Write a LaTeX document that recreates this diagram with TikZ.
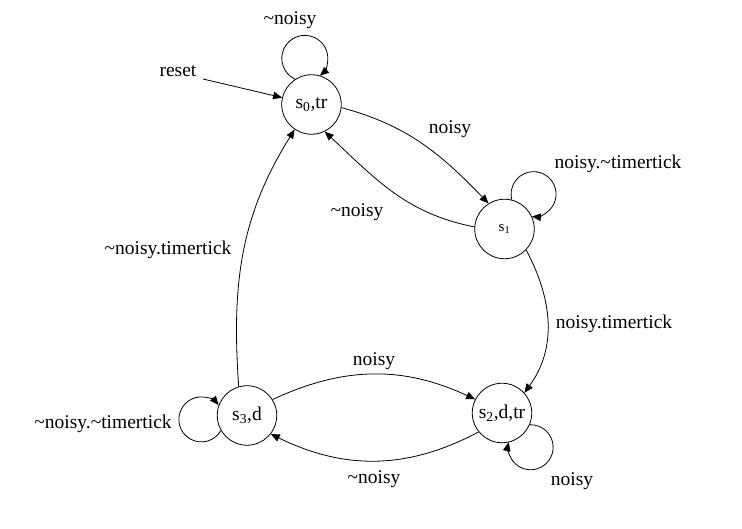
\documentclass[tikz,border=0pt]{standalone}
\usepackage{fontspec}
\setmainfont{Liberation Serif}
\usetikzlibrary{arrows.meta}
\begin{document}
\begin{tikzpicture}[x=1pt,y=1pt,
  state/.style={draw,circle,minimum size=59.5pt,inner sep=0pt,line width=0.8pt,font=\fontsize{19.5}{22}\selectfont},
  lbl/.style={inner sep=0pt,font=\fontsize{19.5}{22}\selectfont},
  tr/.style={line width=0.8pt,-{Triangle[length=9pt,width=7.5pt]}}]
\useasboundingbox (0,0) rectangle (742,529);
\node[state] (s0) at (311.5,424.5) {s\textsubscript{0},tr};
\node[state,font=\fontsize{15}{18}\selectfont] (s1) at (504.5,300) {s\textsubscript{1}};
\node[state] (s2) at (502,116) {s\textsubscript{2},d,tr};
\node[state] (s3) at (247,113.5) {s\textsubscript{3},d};
\coordinate (r) at (203,450);
% edges
\draw[tr] (r) -- (s0);
\draw[tr] (s0.-6) to[out=-15,in=134] (s1.122);
\draw[tr] (s1.176) to[out=169,in=-43] (s0.-64);
\draw[tr] (s1.-44) to[out=-62,in=54] (s2.42);
\draw[tr] (s3.32) to[out=25,in=155] (s2.153);
\draw[tr] (s2.-141) to[out=-152,in=-26] (s3.-38);
\draw[tr] (s3.106) to[out=94,in=-122] (s0.-124);
% loops
\draw[tr] (s0.123) arc[start angle=245,end angle=-49,radius=23];
\draw[tr] (s1.76) arc[start angle=194.4,end angle=-94.4,radius=22.5];
\draw[tr] (s3.210) arc[start angle=-29.7,end angle=-320.3,radius=22.5];
\draw[tr] (s2.-23.7) arc[start angle=92.3,end angle=-193.1,radius=22.5];
% labels
\node[lbl] (l1) at (290,509) {\textasciitilde noisy};
\node[lbl] (l2) at (178,458) {reset};
\node[lbl] (l3) at (450,400) {noisy};
\node[lbl] (l4) at (357,317) {\textasciitilde noisy};
\node[lbl] (l5) at (618,365) {noisy.\textasciitilde timertick};
\node[lbl] (l6) at (168,279) {\textasciitilde noisy.timertick};
\node[lbl] (l7) at (614,205) {noisy.timertick};
\node[lbl] (l8) at (374,168) {noisy};
\node[lbl] (l9) at (103,105) {\textasciitilde noisy.\textasciitilde timertick};
\node[lbl] (l10) at (374,50) {\textasciitilde noisy};
\node[lbl] (l11) at (572,48) {noisy};
\end{tikzpicture}
\end{document}
